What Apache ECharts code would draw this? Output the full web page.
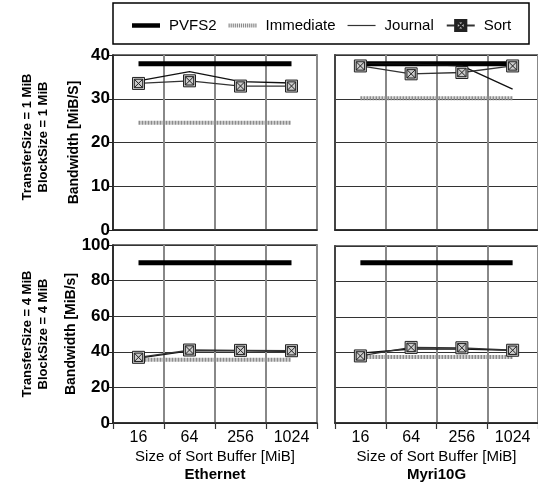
<!DOCTYPE html>
<html><head><meta charset="utf-8">
<script src="https://cdn.jsdelivr.net/npm/echarts@6/dist/echarts.min.js"></script>
<style>html,body{margin:0;padding:0;background:#fff}#c{width:538px;height:484px}</style>
</head><body><div id="c"></div>
<script>
// ---- data ----
const categories = ['16', '64', '256', '1024'];
const seriesNames = ['PVFS2', 'Immediate', 'Journal', 'Sort'];
const networks = ['Ethernet', 'Myri10G'];
const rowLabels = ['TransferSize = 1 MiB\nBlockSize = 1 MiB', 'TransferSize = 4 MiB\nBlockSize = 4 MiB'];
const yAxisNames = ['Bandwidth [MiB/S]', 'Bandwidth [MiB/s]'];
const yTicksTop = [0, 10, 20, 30, 40];
const yTicksBottom = [0, 20, 40, 60, 80, 100];

// TransferSize = 1 MiB, Ethernet
const eth1Pvfs2     = [38, 38, 38, 38];
const eth1Immediate = [24.5, 24.5, 24.5, 24.5];
const eth1Journal   = [34.1, 36.2, 33.9, 33.6];
const eth1Sort      = [33.5, 34.1, 32.9, 32.9];
// TransferSize = 1 MiB, Myri10G
const myr1Pvfs2     = [38, 38, 38, 38];
const myr1Immediate = [30.1, 30.1, 30.1, 30.1];
const myr1Journal   = [38.1, 37.9, 37.5, 32.2];
const myr1Sort      = [37.5, 35.7, 36.0, 37.5];
// TransferSize = 4 MiB, Ethernet
const eth4Pvfs2     = [90, 90, 90, 90];
const eth4Immediate = [35.5, 35.5, 35.5, 35.5];
const eth4Journal   = [36.5, 40.5, 40.5, 40.3];
const eth4Sort      = [36.9, 41.0, 40.8, 40.6];
// TransferSize = 4 MiB, Myri10G
const myr4Pvfs2     = [90.5, 90.5, 90.5, 90.5];
const myr4Immediate = [37.3, 37.3, 37.3, 37.3];
const myr4Journal   = [39.5, 41.8, 41.8, 41.0];
const myr4Sort      = [37.9, 42.7, 42.5, 41.1];

const panels = [
  [eth1Pvfs2, eth1Immediate, eth1Journal, eth1Sort],
  [myr1Pvfs2, myr1Immediate, myr1Journal, myr1Sort],
  [eth4Pvfs2, eth4Immediate, eth4Journal, eth4Sort],
  [myr4Pvfs2, myr4Immediate, myr4Journal, myr4Sort]
];

// ---- chart ----
const FONT = 'Liberation Sans, Arial, sans-serif';
const grids = [
  {left: 113, top: 55, width: 204, height: 175},
  {left: 335, top: 55, width: 206, height: 175},
  {left: 113, top: 245, width: 204, height: 178},
  {left: 335, top: 246, width: 206, height: 177}
].map(g => Object.assign({show: true, borderColor: '#444', borderWidth: 1.5, backgroundColor: '#fff'}, g));

const xAxis = [], yAxis = [], series = [];
const boxX = 'path://M0,0L10,0L10,10L0,10Z M1.5,1.5L8.5,8.5 M8.5,1.5L1.5,8.5 M1.5,1.5L8.5,1.5L8.5,8.5L1.5,8.5Z';

for (let i = 0; i < 4; i++) {
  const row = Math.floor(i / 2), col = i % 2;
  const ticks = row === 0 ? yTicksTop : yTicksBottom;
  xAxis.push({
    type: 'category', gridIndex: i, data: categories, boundaryGap: true,
    axisLine: {show: true, lineStyle: {color: '#222', width: 1.5}},
    axisTick: {show: row === 1, length: 6, lineStyle: {color: '#333', width: 1.2}},
    axisLabel: {show: row === 1, margin: 7, fontSize: 16, color: '#000', fontFamily: FONT},
    splitLine: {show: true, lineStyle: {color: '#888', width: 2}},
    name: row === 1 ? '{a|Size of Sort Buffer [MiB]}\n{b|' + networks[col] + '}' : '',
    nameLocation: 'middle', nameGap: 25,
    nameTextStyle: {
      rich: {
        a: {fontSize: 15, color: '#000', fontFamily: FONT, lineHeight: 18},
        b: {fontSize: 15, color: '#000', fontFamily: FONT, lineHeight: 18, fontWeight: 'bold'}
      }
    }
  });
  yAxis.push({
    type: 'value', gridIndex: i,
    min: ticks[0], max: ticks[ticks.length - 1], interval: ticks[1] - ticks[0],
    axisLine: {show: true, lineStyle: {color: col === 0 ? '#111' : '#444', width: col === 0 ? 1.5 : 2}},
    axisTick: {show: col === 0, length: 5, lineStyle: {color: '#222'}},
    axisLabel: {show: col === 0, margin: 3, fontSize: 17, fontWeight: 'bold', color: '#000', fontFamily: FONT},
    splitLine: {show: true, lineStyle: {color: '#333', width: 1}},
    name: col === 0 ? yAxisNames[row] : '', nameLocation: 'middle', nameGap: 32,
    nameTextStyle: {fontSize: 14, fontWeight: 'bold', color: '#000', fontFamily: FONT}
  });
  const d = panels[i];
  series.push(
    {name: seriesNames[0], type: 'line', xAxisIndex: i, yAxisIndex: i, data: d[0], symbol: 'none',
     lineStyle: {color: '#000', width: 5}, itemStyle: {color: '#000'}, z: 3},
    {name: seriesNames[1], type: 'line', xAxisIndex: i, yAxisIndex: i, data: d[1], symbol: 'none',
     lineStyle: {color: '#8c8c8c', width: 4, type: [2, 1]}, itemStyle: {color: '#8c8c8c'}, z: 2},
    {name: seriesNames[2], type: 'line', xAxisIndex: i, yAxisIndex: i, data: d[2], symbol: 'none',
     lineStyle: {color: '#111', width: 1.3}, itemStyle: {color: '#111'}, z: 4},
    {name: seriesNames[3], type: 'line', xAxisIndex: i, yAxisIndex: i, data: d[3], symbol: boxX, symbolSize: 12,
     showSymbol: true,
     lineStyle: {color: '#333', width: 1.3}, itemStyle: {color: '#ccc', borderColor: '#222', borderWidth: 1}, z: 5}
  );
}

// legend icon shapes
let dots = '';
for (let k = 0; k < 14; k++) dots += 'M' + (k * 2) + ',0h1.2v4h-1.2z';
const legendIcons = {
  PVFS2: {icon: 'path://M0,0L28,0L28,4.5L0,4.5Z', itemStyle: {color: '#000', borderWidth: 0}},
  Immediate: {icon: 'path://' + dots, itemStyle: {color: '#8c8c8c', borderWidth: 0}},
  Journal: {icon: 'path://M0,0L28,0L28,1.2L0,1.2Z', itemStyle: {color: '#333', borderWidth: 0}}
};

const option = {
  backgroundColor: '#fff',
  animation: false,
  grid: grids,
  xAxis, yAxis, series,
  legend: {
    data: seriesNames.map(n => Object.assign({name: n}, legendIcons[n] || {})),
    left: 127, top: 13, width: 410, itemWidth: 28, itemHeight: 14, itemGap: 12,
    textStyle: {fontSize: 15, color: '#000', fontFamily: FONT, padding: [0, 0, 0, 4]}
  },
  graphic: [
    {type: 'rect', shape: {x: 113, y: 3, width: 416, height: 41}, style: {fill: 'none', stroke: '#000', lineWidth: 1.5}, z: -1},
    {type: 'text', x: 35, y: 137, rotation: Math.PI / 2,
     style: {text: rowLabels[0], textAlign: 'center', textVerticalAlign: 'middle', fontSize: 13, fontWeight: 'bold', lineHeight: 16, fill: '#000', fontFamily: FONT}},
    {type: 'text', x: 35, y: 334, rotation: Math.PI / 2,
     style: {text: rowLabels[1], textAlign: 'center', textVerticalAlign: 'middle', fontSize: 13, fontWeight: 'bold', lineHeight: 16, fill: '#000', fontFamily: FONT}}
  ]
};
const chart = echarts.init(document.getElementById('c'), null, {renderer: 'canvas'});
chart.setOption(option);
</script></body></html>
